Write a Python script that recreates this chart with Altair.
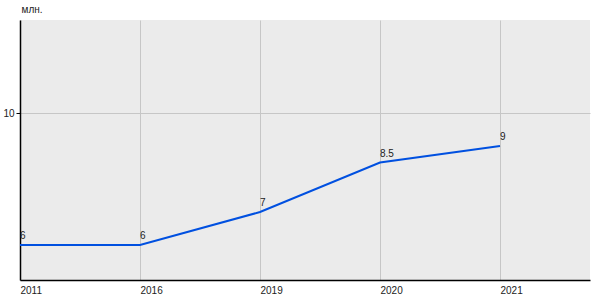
import altair as alt
import pandas as pd

years = ["2011", "2016", "2019", "2020", "2021"]
values = [6, 6, 7, 8.5, 9]
labels = ["6", "6", "7", "8.5", "9"]

df = pd.DataFrame({"idx": list(range(len(years))), "year": years, "value": values, "label": labels})

label_expr = "[" + ",".join(f"'{y}'" for y in years) + "][datum.value]"

x = alt.X("idx:Q",
          scale=alt.Scale(domain=[0, 4.75], nice=False, zero=False),
          axis=alt.Axis(values=list(range(len(years))), labelExpr=label_expr, title=None,
                        labelAlign="left", labelFontSize=10, labelColor="#222", labelFont="Liberation Sans",
                        ticks=False, labelPadding=5, domainColor="#000", domainWidth=1.5,
                        grid=True, gridColor="#c6c6c6", gridWidth=1))
y = alt.Y("value:Q",
          scale=alt.Scale(domain=[4.94, 12.82], nice=False, zero=False),
          axis=alt.Axis(values=[10], title="млн.", titleAngle=0, titleAlign="left", titleX=1, titleY=-6,
                        titleFontWeight="normal", titleFontSize=10, titleFont="Liberation Sans", titleColor="#222",
                        labelFontSize=10, labelFont="Liberation Sans", labelColor="#222", labelPadding=2,
                        tickSize=4, tickColor="#000", domainColor="#000", domainWidth=1.5,
                        grid=True, gridColor="#c6c6c6", gridWidth=1))

line = alt.Chart(df).mark_line(color="#0050e0", strokeWidth=2).encode(x=x, y=y)
text = alt.Chart(df).mark_text(align="left", baseline="bottom", dy=-4, fontSize=10,
                               font="Liberation Sans", color="#222").encode(x="idx:Q", y="value:Q", text="label:N")

chart = (line + text).properties(
    width=570, height=260,
    background="white",
    autosize=alt.AutoSizeParams(type="none"),
    padding={"left": 20, "top": 20, "right": 10, "bottom": 20},
).configure_view(fill="#ebebeb", stroke=None)

chart.save("out.html", embed_options={"renderer": "svg", "actions": False})
